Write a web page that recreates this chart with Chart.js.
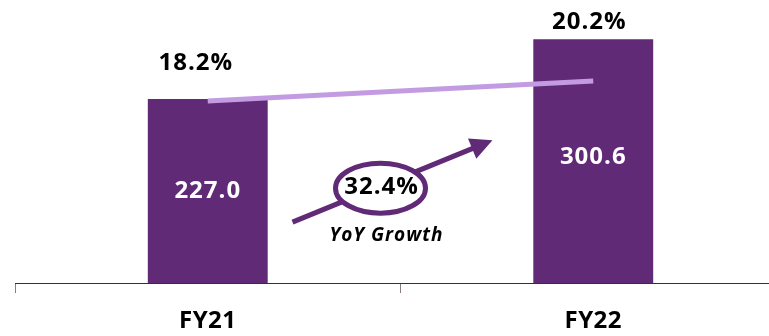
<!DOCTYPE html>
<html>
<head>
<meta charset="utf-8">
<script src="https://cdn.jsdelivr.net/npm/chart.js@4/dist/chart.umd.min.js"></script>
<style>
  html, body { margin:0; padding:0; background:#fff; overflow:hidden; }
  #wrap { position:relative; width:786px; height:336px; }
</style>
</head>
<body>
<div id="wrap"><canvas id="chart"></canvas></div>
<script>
const categories = ['FY21', 'FY22'];
const revenue = [227.0, 300.6];
const margin = [18.2, 20.2];
const revenueLabels = ['227.0', '300.6'];
const marginLabels = ['18.2%', '20.2%'];
const growthLabel = '32.4%';
const growthCaption = 'YoY Growth';

const purple = '#612a76';
const lilac = '#c39be3';
const FONT = '"Open Sans", Lato, sans-serif';

const spacingPlugin = {
  id: 'spacing',
  beforeDraw(chart){ chart.ctx.letterSpacing = '0.5px'; }
};

const labelsPlugin = {
  id: 'labels',
  afterDatasetsDraw(chart){
    const ctx = chart.ctx;
    const bars = chart.getDatasetMeta(1).data;
    const pts = chart.getDatasetMeta(0).data;
    ctx.save();
    ctx.letterSpacing = '1px';
    ctx.textAlign = 'center';
    ctx.textBaseline = 'middle';
    ctx.font = 'bold 24px ' + FONT;
    ctx.fillStyle = '#fff';
    const midOff = [0, -4];
    bars.forEach((b,i)=>{
      ctx.fillText(revenueLabels[i], b.x, (b.y + b.base)/2 + midOff[i]);
    });
    ctx.fillStyle = '#000';
    const dx = [-12, -4];
    const topY = [pts[0].y - 38, bars[1].y - 17];
    pts.forEach((p,i)=>{
      ctx.fillText(marginLabels[i], p.x + dx[i], topY[i]);
    });

    // growth annotation between the two categories
    const xs = chart.scales.x;
    const ys = chart.scales.y;
    const midX = (xs.getPixelForValue(0) + xs.getPixelForValue(1))/2;
    const cx = midX - 20, cy = ys.getPixelForValue(117);
    ctx.strokeStyle = purple;
    ctx.fillStyle = purple;
    ctx.lineWidth = 5;
    // arrow
    const x0 = midX - 108, y0 = ys.getPixelForValue(75);
    const x1 = midX + 92, y1 = ys.getPixelForValue(176);
    const ang = Math.atan2(y1 - y0, x1 - x0);
    const hl = 22, hw = 11;
    const bx = x1 - hl*Math.cos(ang), by = y1 - hl*Math.sin(ang);
    ctx.beginPath();
    ctx.moveTo(x0, y0);
    ctx.lineTo(bx + 2*Math.cos(ang), by + 2*Math.sin(ang));
    ctx.stroke();
    ctx.beginPath();
    ctx.moveTo(x1, y1);
    ctx.lineTo(bx + hw*Math.sin(ang), by - hw*Math.cos(ang));
    ctx.lineTo(bx - hw*Math.sin(ang), by + hw*Math.cos(ang));
    ctx.closePath();
    ctx.fill();
    // ellipse
    ctx.beginPath();
    ctx.ellipse(cx, cy, 45, 25, 0, 0, Math.PI*2);
    ctx.fillStyle = '#fff';
    ctx.fill();
    ctx.stroke();
    ctx.fillStyle = '#000';
    ctx.font = 'bold 24px ' + FONT;
    ctx.fillText(growthLabel, cx + 1, cy - 1);
    ctx.letterSpacing = '1px';
    ctx.font = 'italic bold 19px ' + FONT;
    ctx.fillText(growthCaption, midX - 14, cy + 47);
    ctx.restore();
  }
};

new Chart(document.getElementById('chart'), {
  data: {
    labels: categories,
    datasets: [
      { type:'line', label:'Margin', data: margin, yAxisID:'y2', borderColor: lilac, borderWidth:5,
        pointRadius:0, fill:false, order:0 },
      { type:'bar', label:'Revenue', data: revenue, yAxisID:'y', backgroundColor: purple,
        categoryPercentage:1, barPercentage:0.311, order:1 }
    ]
  },
  options: {
    responsive:true,
    maintainAspectRatio:false,
    animation:false,
    layout:{ padding:{ left:15, right:0, top:0, bottom:0 } },
    plugins:{ legend:{ display:false }, tooltip:{ enabled:false } },
    scales:{
      x:{
        afterFit(scale){ scale.height = 53; },
        grid:{ display:true, drawOnChartArea:false, drawTicks:true, tickLength:10, color:'#8a7a8a', offset:true },
        border:{ display:true, color:'#3c2a44', width:1 },
        ticks:{ color:'#000', font:{ family:FONT, size:24, weight:'bold' }, padding:14 }
      },
      y:{ display:false, min:0, max:349 },
      y2:{ display:false, min:0, max:28.3 }
    }
  },
  plugins:[spacingPlugin, labelsPlugin]
});
</script>
</body>
</html>
